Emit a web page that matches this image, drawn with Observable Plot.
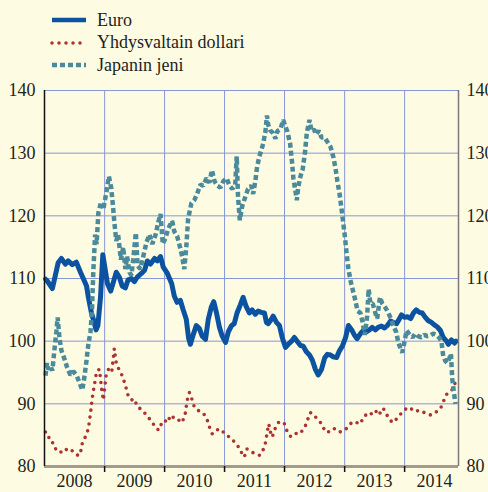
<!DOCTYPE html>
<html>
<head>
<meta charset="utf-8">
<script src="https://cdn.jsdelivr.net/npm/d3@7"></script>
<script src="https://cdn.jsdelivr.net/npm/@observablehq/plot@0.6"></script>
<style>
  html, body { margin: 0; padding: 0; background: #fdfbe2; }
  body { width: 488px; height: 492px; overflow: hidden; font-family: "Liberation Serif", "Times New Roman", serif; color: #231f20; }
  #legend { position: relative; height: 78px; }
  .row { position: absolute; left: 50px; height: 22px; display: flex; align-items: center; font-size: 18px; }
  .row svg { width: 38px; height: 10px; margin-right: 9px; overflow: visible; }
</style>
</head>
<body>
<div id="legend"></div>
<div id="chart"></div>
<script>
const seriesNames = ["Euro", "Yhdysvaltain dollari", "Japanin jeni"];
const yTicks = [80, 90, 100, 110, 120, 130, 140];
const yearLabels = ["2008", "2009", "2010", "2011", "2012", "2013", "2014"];

const euroDates = ["2008-01-07","2008-01-18","2008-02-18","2008-03-07","2008-03-24","2008-04-13","2008-05-07","2008-05-24","2008-06-18","2008-07-13","2008-08-07","2008-08-24","2008-09-13","2008-09-24","2008-10-13","2008-10-24","2008-11-10","2008-11-21","2008-12-07","2008-12-21","2009-01-01","2009-01-18","2009-02-07","2009-02-24","2009-03-13","2009-04-01","2009-04-18","2009-05-07","2009-05-24","2009-06-13","2009-07-01","2009-07-18","2009-08-13","2009-09-01","2009-09-18","2009-10-07","2009-11-01","2009-11-18","2009-12-07","2009-12-24","2010-01-18","2010-02-13","2010-03-01","2010-03-18","2010-04-07","2010-04-24","2010-05-13","2010-05-27","2010-06-07","2010-06-24","2010-07-13","2010-08-01","2010-08-18","2010-09-07","2010-09-24","2010-10-13","2010-10-27","2010-11-13","2010-12-01","2010-12-18","2011-01-07","2011-01-24","2011-02-13","2011-03-01","2011-03-18","2011-04-07","2011-04-24","2011-05-13","2011-06-01","2011-06-18","2011-07-07","2011-07-24","2011-08-13","2011-09-01","2011-09-13","2011-09-24","2011-10-13","2011-10-24","2011-11-13","2011-12-01","2011-12-18","2012-01-07","2012-01-24","2012-02-13","2012-03-01","2012-03-18","2012-04-07","2012-04-24","2012-05-13","2012-06-01","2012-06-18","2012-07-07","2012-07-24","2012-08-13","2012-09-01","2012-09-18","2012-10-07","2012-10-24","2012-11-13","2012-12-01","2012-12-18","2013-01-07","2013-01-24","2013-02-13","2013-03-01","2013-03-18","2013-04-07","2013-04-24","2013-05-13","2013-06-01","2013-06-18","2013-07-07","2013-07-24","2013-08-13","2013-09-01","2013-09-18","2013-10-07","2013-10-24","2013-11-13","2013-12-01","2013-12-13","2014-01-01","2014-01-18","2014-02-07","2014-02-24","2014-03-13","2014-04-01","2014-04-18","2014-05-07","2014-05-24","2014-06-13","2014-07-01","2014-07-18","2014-08-07","2014-08-24","2014-09-13","2014-09-24","2014-10-13","2014-11-01","2014-11-10"];
const euroValues = [109.9,109.6,108.4,110.5,112.5,113.2,112.3,112.8,112.2,112.6,111,110,108.8,107,104.5,103.5,101.8,102.5,107,113.8,112,109.2,108,109.5,111,110.2,108.8,108.5,109.8,110,109.5,110.2,110.8,111.3,112.8,112.3,113.2,112.8,113.5,111.8,110.8,109.2,107.2,106.2,106.5,105,103.5,100.5,99.5,101,102.5,102,100.8,100.3,103.5,105.5,106.3,104.5,102.2,100.8,99.8,101.5,102.5,102.8,104.5,105.8,107,105.5,104.5,105,104.3,104.8,104.6,104.5,103,102.8,103.5,104,103,102.5,100.6,99,99.5,100,100.6,100,99.3,99.2,98.3,97.8,97,95.5,94.6,95.5,97.3,97.9,97.8,97.5,97.4,98.5,99.2,100.6,102.5,101.8,101,100.4,101.2,101.7,101.5,101.8,102.2,101.8,102.2,102.4,102.1,102.5,103.2,103,102.8,103.6,104.2,103.8,103.9,103.6,104.5,105,104.6,104.5,103.8,103.3,103,102.6,102.3,101.7,100.6,100,99.5,100.2,99.7,100];

const usdDates = ["2008-01-07","2008-01-18","2008-02-10","2008-03-01","2008-03-18","2008-04-07","2008-04-24","2008-05-13","2008-06-01","2008-06-18","2008-07-07","2008-07-24","2008-08-07","2008-08-18","2008-09-07","2008-09-24","2008-10-07","2008-10-18","2008-11-01","2008-11-13","2008-12-01","2008-12-13","2008-12-24","2009-01-10","2009-01-24","2009-02-13","2009-03-01","2009-03-13","2009-04-01","2009-04-18","2009-05-07","2009-05-24","2009-06-13","2009-07-01","2009-07-18","2009-08-07","2009-08-24","2009-09-13","2009-10-01","2009-10-18","2009-11-07","2009-11-24","2009-12-13","2010-01-01","2010-01-18","2010-02-07","2010-02-24","2010-03-13","2010-04-01","2010-04-18","2010-05-07","2010-05-18","2010-06-01","2010-06-13","2010-07-01","2010-07-18","2010-08-07","2010-08-24","2010-09-13","2010-10-01","2010-10-18","2010-11-07","2010-11-24","2010-12-13","2011-01-01","2011-01-18","2011-02-07","2011-02-24","2011-03-13","2011-04-01","2011-04-18","2011-05-01","2011-05-18","2011-06-07","2011-06-24","2011-07-13","2011-08-01","2011-08-18","2011-09-07","2011-09-18","2011-09-27","2011-10-10","2011-10-18","2011-11-07","2011-11-24","2011-12-13","2012-01-01","2012-01-18","2012-02-07","2012-02-24","2012-03-13","2012-04-01","2012-04-18","2012-05-07","2012-05-21","2012-06-07","2012-06-21","2012-07-07","2012-07-24","2012-08-13","2012-09-01","2012-09-18","2012-10-07","2012-10-24","2012-11-13","2012-12-01","2012-12-18","2013-01-07","2013-01-24","2013-02-13","2013-03-01","2013-03-18","2013-04-07","2013-04-24","2013-05-13","2013-06-01","2013-06-18","2013-07-07","2013-07-24","2013-08-13","2013-08-24","2013-09-13","2013-10-01","2013-10-18","2013-11-07","2013-11-24","2013-12-13","2014-01-01","2014-01-18","2014-02-07","2014-02-24","2014-03-13","2014-04-01","2014-04-18","2014-05-07","2014-05-24","2014-06-13","2014-07-01","2014-07-18","2014-08-07","2014-08-24","2014-09-13","2014-10-01","2014-10-18","2014-11-07"];
const usdValues = [85.5,84.7,84.5,83,82.6,82.2,82.8,82.7,82.9,82.5,82.2,81.7,82.2,83.7,84.8,86,88.5,91,93.2,95.2,95.5,92.5,90.6,94.5,95.5,95,98.8,96.5,95.3,94.5,93,91.3,90.6,90.8,89.6,89.2,88.8,88.2,87.6,86.9,86.5,85.8,86.8,87.4,87,88.2,87.8,87.8,87.3,87,88.5,90.5,91.8,91,89.5,89,88.8,88.5,87.8,86.3,85.2,85.5,86,85.8,85.3,85,84.4,84.1,83.5,83,82,81.5,82.8,82.4,82.2,82.1,81.8,82.2,83.8,85.5,86.8,85.2,84.7,86.2,87,87.2,86.8,85.5,84.8,84.8,85.3,85.2,85.7,86.5,87.5,88.6,88.1,87.9,87.5,86.8,85.8,85.4,85.8,86.1,85.9,85.5,85.6,85.9,86.5,87,86.8,87,86.8,87.8,88.3,88.1,88.6,89,88.2,88.8,89.3,88.3,87.6,87,87.4,88,88.5,89,89.4,89.1,89.3,89,88.7,88.8,88.5,88.3,88.2,88.5,88.8,89.2,90.3,91.5,91.8,92.3,93.5];

const yenDates = ["2008-01-07","2008-01-16","2008-01-24","2008-02-07","2008-02-18","2008-03-01","2008-03-13","2008-03-21","2008-04-01","2008-04-13","2008-05-01","2008-05-18","2008-06-07","2008-06-24","2008-07-13","2008-08-01","2008-08-18","2008-09-01","2008-09-13","2008-09-24","2008-10-07","2008-10-16","2008-10-24","2008-11-04","2008-11-13","2008-11-24","2008-12-10","2008-12-24","2009-01-13","2009-01-27","2009-02-10","2009-02-21","2009-03-01","2009-03-13","2009-03-24","2009-04-10","2009-04-24","2009-05-07","2009-05-18","2009-06-01","2009-06-13","2009-06-24","2009-07-10","2009-07-21","2009-08-07","2009-08-24","2009-09-13","2009-10-01","2009-10-18","2009-11-07","2009-11-24","2009-12-07","2009-12-21","2010-01-07","2010-01-24","2010-02-16","2010-03-01","2010-03-18","2010-04-07","2010-04-18","2010-05-01","2010-05-13","2010-05-24","2010-06-13","2010-07-01","2010-07-18","2010-08-07","2010-08-24","2010-09-13","2010-10-01","2010-10-16","2010-11-01","2010-11-18","2010-12-07","2010-12-24","2011-01-13","2011-02-01","2011-02-18","2011-03-07","2011-03-16","2011-03-24","2011-04-04","2011-04-18","2011-05-07","2011-05-24","2011-06-13","2011-06-24","2011-07-07","2011-07-18","2011-08-01","2011-08-13","2011-08-24","2011-09-07","2011-09-16","2011-09-24","2011-10-07","2011-10-24","2011-11-07","2011-11-18","2011-12-07","2011-12-24","2012-01-07","2012-01-18","2012-02-04","2012-02-16","2012-02-24","2012-03-07","2012-03-16","2012-03-24","2012-04-07","2012-04-21","2012-05-04","2012-05-16","2012-06-01","2012-06-13","2012-06-27","2012-07-13","2012-07-27","2012-08-13","2012-09-01","2012-09-18","2012-10-07","2012-10-24","2012-11-07","2012-11-18","2012-12-01","2012-12-16","2013-01-01","2013-01-13","2013-01-24","2013-02-07","2013-02-21","2013-03-07","2013-03-21","2013-04-07","2013-04-18","2013-05-04","2013-05-18","2013-05-27","2013-06-07","2013-06-21","2013-07-07","2013-07-18","2013-08-04","2013-08-18","2013-09-07","2013-09-24","2013-10-10","2013-10-24","2013-11-10","2013-11-24","2013-12-07","2013-12-18","2014-01-01","2014-01-13","2014-02-01","2014-02-18","2014-03-07","2014-03-24","2014-04-13","2014-05-01","2014-05-18","2014-06-07","2014-06-24","2014-07-13","2014-08-01","2014-08-13","2014-08-24","2014-09-07","2014-09-18","2014-10-01","2014-10-10","2014-10-18","2014-10-27","2014-11-07"];
const yenValues = [94.5,96.5,95.5,96,95.3,98.5,101.5,103.8,100.5,98.5,97.2,95.8,94.6,95.2,94.6,93.4,92.2,94.5,97,99.5,101.5,105,111,117,115.5,120.5,122.2,121,124,126.3,124.5,121.5,119,116,117,113,115,111.5,113.5,111,110.5,113,117.3,112,111.5,113.5,115.8,117,115.5,117,119,120.3,115.5,116.5,118,119.2,117.5,116.8,114.8,113.5,111.5,115,119.5,122,122.5,123.5,125,124.8,126,125.3,127.3,125.5,124.8,124.5,125.5,126,124.8,124.3,125,129.5,123,119.3,121.5,123,124.3,124.8,123.5,125.5,127.8,129.5,130.5,131.5,133.5,136,134.5,133.6,133.2,132.3,133.5,133.8,135.3,134.2,133.5,131.5,128.5,126,124,122.5,124.5,126.3,127.5,130,133.3,135.3,133.5,133.8,133,133.6,132.5,132.5,131.8,131,129.4,127.5,125.5,123.5,120.5,117,114,111.5,109.5,108,106.5,104.8,104.5,103.3,101,104,108.3,106,106,104.5,103.6,107,106,105.3,104.5,103.6,102.5,101.5,99.8,98.8,98.2,100,101.7,101,100.6,101.2,100.8,100.6,101,100.8,100.9,101.2,101,100.5,100,97.6,96.8,96.5,97.3,98,94,92,90];

const colors = ["#0b52a1", "#ad3331", "#4b8a9b"];
const dashes = [null, "0 7", "5 3"];

const toRows = (dates, values) => dates.map((d, i) => ({date: new Date(d), value: values[i]}));
const euro = toRows(euroDates, euroValues);
const usd = toRows(usdDates, usdValues);
const yen = toRows(yenDates, yenValues);

// legend
const legend = document.getElementById("legend");
seriesNames.forEach((name, i) => {
  const row = document.createElement("div");
  row.className = "row";
  row.style.top = (9 + i * 22.5) + "px";
  row.innerHTML = `<svg viewBox="0 0 38 10"><line x1="2" x2="36" y1="5" y2="5" stroke="${colors[i]}" stroke-width="${i === 1 ? 3.5 : 4.5}" ${dashes[i] ? `stroke-dasharray="${dashes[i]}"` : ""} stroke-linecap="${i === 1 ? "round" : "butt"}"/></svg><span>${name}</span>`;
  legend.appendChild(row);
});

const start = new Date("2008-01-01");
const end = new Date("2014-11-25");
const yearStarts = yearLabels.slice(1).map(y => new Date(`${y}-01-01`));
const yearMids = yearLabels.map(y => new Date(`${y}-07-02`));

const chart = Plot.plot({
  width: 488,
  height: 414,
  marginLeft: 44,
  marginRight: 30,
  marginTop: 12,
  marginBottom: 26,
  style: {background: "transparent", fontFamily: "Liberation Serif, Times New Roman, serif", fontSize: "18px", color: "#231f20", overflow: "visible"},
  x: {type: "utc", domain: [start, end]},
  y: {domain: [80, 140]},
  marks: [
    Plot.gridY(yTicks.slice(1), {stroke: "#8797d9", strokeOpacity: 1, strokeWidth: 1}),
    Plot.gridX(yearStarts, {stroke: "#8797d9", strokeOpacity: 1, strokeWidth: 1}),
    Plot.lineY(euro, {x: "date", y: "value", stroke: colors[0], strokeWidth: 5, strokeLinejoin: "round"}),
    Plot.lineY(usd, {x: "date", y: "value", stroke: colors[1], strokeWidth: 3.6, strokeDasharray: dashes[1], strokeLinecap: "round"}),
    Plot.lineY(yen, {x: "date", y: "value", stroke: colors[2], strokeWidth: 4.5, strokeDasharray: dashes[2], strokeLinecap: "butt", strokeLinejoin: "miter"}),
    Plot.ruleY([80], {stroke: "#a29d8a", strokeWidth: 3}),
    Plot.ruleX([start], {stroke: "#111", strokeWidth: 1.5}),
    Plot.ruleX([end], {stroke: "#7a7a7a", strokeWidth: 1.5}),
    Plot.axisY(yTicks, {anchor: "left", label: null, tickSize: 0, tickPadding: 9, fontSize: 18}),
    Plot.axisY(yTicks, {anchor: "right", label: null, tickSize: 0, tickPadding: 8, fontSize: 18}),
    Plot.axisX(yearStarts, {label: null, tickSize: 6, stroke: "#111", strokeWidth: 1.5, tickFormat: () => ""}),
    Plot.axisX(yearMids, {label: null, tickSize: 0, tickPadding: 8, fontSize: 18, tickFormat: d => d3.utcFormat("%Y")(d)})
  ]
});
document.getElementById("chart").appendChild(chart);
</script>
</body>
</html>
